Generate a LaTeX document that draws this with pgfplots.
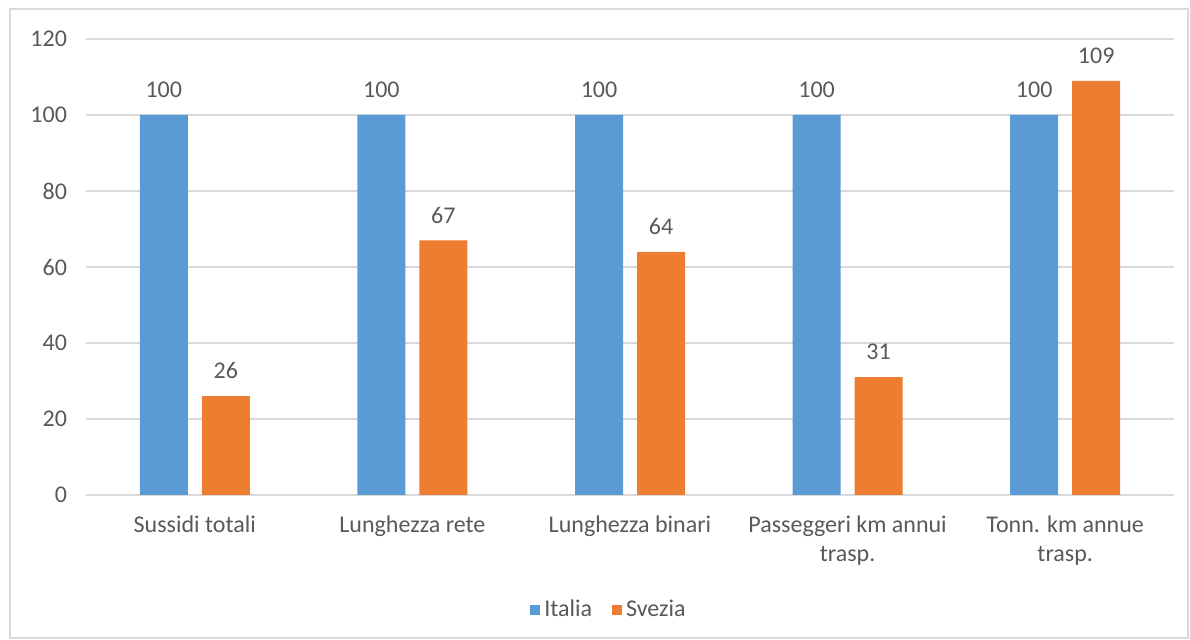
\documentclass[border=0pt]{standalone}
\usepackage{fontspec}
\setmainfont{Carlito}
\usepackage{pgfplots}
\pgfplotsset{compat=1.18}
\definecolor{italia}{HTML}{5B9BD5}
\definecolor{svezia}{HTML}{ED7D31}
\definecolor{gridc}{HTML}{D9D9D9}
\definecolor{txt}{HTML}{595959}
\begin{document}
\begin{tikzpicture}
\useasboundingbox (-43pt,-72.5pt) rectangle (552pt,247.5pt);
\draw[gridc, line width=0.8pt] (-38pt,-71.5pt) rectangle (551pt,243pt);
\begin{axis}[
  scale only axis, width=544pt, height=228pt,
  xmin=-0.5, xmax=4.5, ymin=0, ymax=120,
  ytick={0,20,...,120},
  xtick={0,1,2,3,4},
  xticklabels={Sussidi totali, Lunghezza rete, Lunghezza binari, {Passeggeri km annui\\trasp.}, {Tonn. km annue\\trasp.}},
  xticklabel style={align=center, font=\fontsize{12}{14.5}\selectfont, text=txt, yshift=-7pt},
  yticklabel style={font=\fontsize{12}{14}\selectfont, text=txt, xshift=-6pt},
  /pgf/number format/assume math mode=true,
  axis line style={draw=none},
  major tick length=0pt,
  ymajorgrids, grid style={gridc, line width=0.8pt},
  legend style={draw=none, at={(0.4816,-0.252)}, anchor=center, legend columns=2,
    font=\fontsize{12}{14}\selectfont, text=txt,
    /tikz/every even column/.append style={column sep=8pt}},
  legend image code/.code={\fill[#1] (0pt,-2.5pt) rectangle (5pt,2.5pt);},
  nodes near coords style={font=\fontsize{12}{14}\selectfont, text=txt, yshift=5pt},
]
\addplot[ybar, bar width=24pt, bar shift=-15.5pt, fill=italia, draw=none, nodes near coords,
  every node near coord/.append style={xshift=-15.5pt}] coordinates {
(0,100) (1,100) (2,100) (3,100) (4,100)
};
\addlegendentry{Italia}
\addplot[ybar, bar width=24pt, bar shift=15.5pt, fill=svezia, draw=none, nodes near coords,
  every node near coord/.append style={xshift=15.5pt}] coordinates {
(0,26) (1,67) (2,64) (3,31) (4,109)
};
\addlegendentry{Svezia}
\end{axis}
\end{tikzpicture}
\end{document}
